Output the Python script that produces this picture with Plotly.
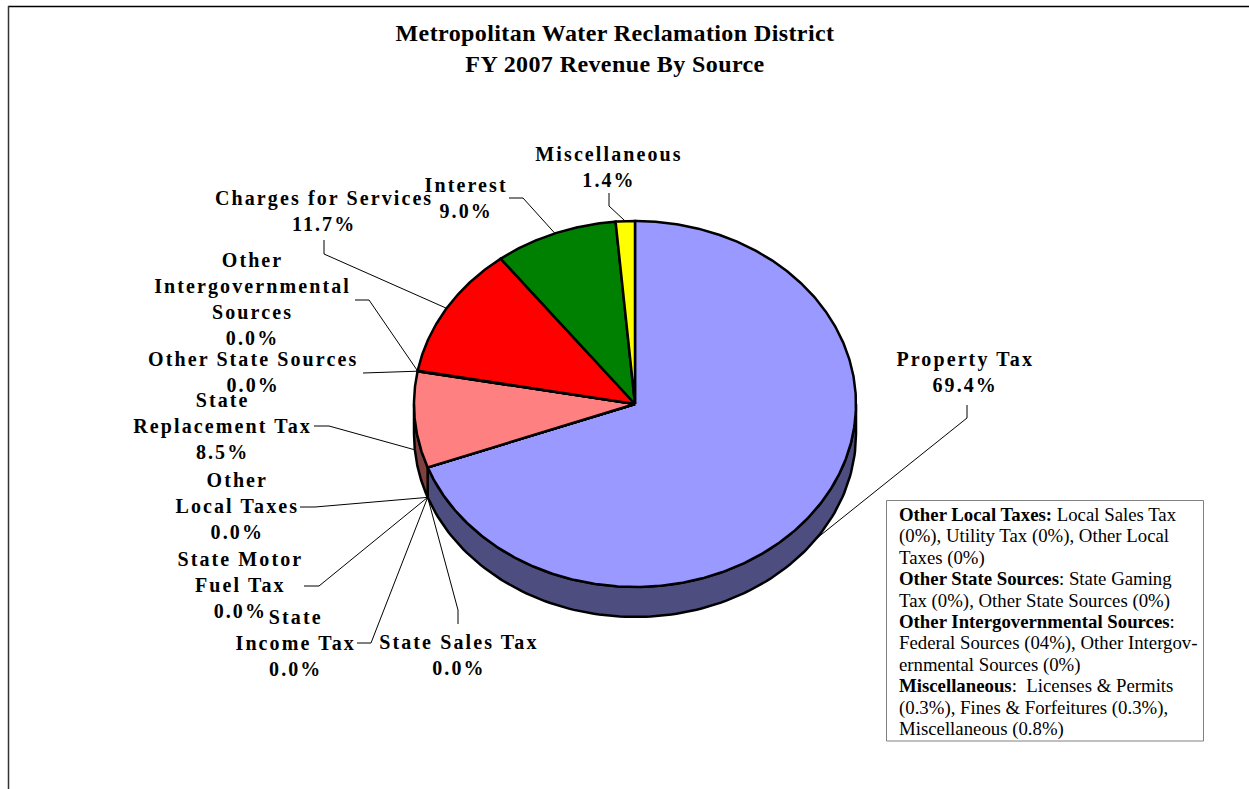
import numpy as np
import plotly.graph_objects as go

# ---- data -------------------------------------------------------------
categories = ["Property Tax", "Other Local Taxes", "State Motor Fuel Tax", "State Income Tax",
              "State Sales Tax", "State Replacement Tax", "Other State Sources",
              "Other Intergovernmental Sources", "Charges for Services", "Interest", "Miscellaneous"]
values = [69.4, 0.0, 0.0, 0.0, 0.0, 8.5, 0.0, 0.04, 11.7, 9.0, 1.4]
shown_pct = ["69.4%", "0.0%", "0.0%", "0.0%", "0.0%", "8.5%", "0.0%", "0.0%", "11.7%", "9.0%", "1.4%"]
label_lines = [["Property Tax"], ["Other", "Local Taxes"], ["State Motor", "Fuel Tax"],
               ["State", "Income Tax"], ["State Sales Tax"], ["State", "Replacement Tax"],
               ["Other State Sources"], ["Other", "Intergovernmental", "Sources"],
               ["Charges for Services"], ["Interest"], ["Miscellaneous"]]
title_lines = ["Metropolitan Water Reclamation District", "FY 2007 Revenue By Source"]
note_lines = ["<b>Other Local Taxes:</b> Local Sales Tax", "(0%), Utility Tax (0%), Other Local", "Taxes (0%)",
              "<b>Other State Sources</b>: State Gaming", "Tax (0%), Other State Sources (0%)",
              "<b>Other Intergovernmental Sources</b>:", "Federal Sources (04%), Other Intergov-",
              "ernmental Sources (0%)", "<b>Miscellaneous</b>:  Licenses &amp; Permits",
              "(0.3%), Fines &amp; Forfeitures (0.3%),", "Miscellaneous (0.8%)"]

# ---- styles and layout -------------------------------------------------
top_colors = ["#9999FF", "#333333", "#333333", "#333333", "#333333", "#FF8080",
              "#333333", "#333333", "#FF0000", "#008000", "#FFFF00"]
side_colors = ["#4D4D80", "#1A1A1A", "#1A1A1A", "#1A1A1A", "#1A1A1A", "#804040",
               "#1A1A1A", "#1A1A1A", "#800000", "#004000", "#808000"]
CX, CY, RX, RY, DEPTH = 635, 404, 221, 183, 30
label_pos = [(965, 371.5), (237, 505.5), (240, 585), (295, 642.5), (459, 655), (222, 426),
             (253, 371.5), (253, 299), (324, 210.5), (466, 197.5), (609, 166.5)]
# elbow points of the leader lines (label side first)
leader_elbow = [[(967, 405), (967, 418)], [(300, 507), (315, 507)], [(304, 586), (319, 586)],
                [(357, 643), (371, 643)], [(458, 624), (458, 610)], [(314, 426), (329, 426)],
                [(363, 373)], [(355, 300), (369, 300)], [(324, 240), (324, 254)],
                [(509, 198), (523, 198)], [(609, 193), (609, 206)]]
LABEL_FONT = dict(family="Liberation Serif", size=20, color="#000000", weight="bold")


def rim(deg):
    a = np.radians(deg)
    return CX + RX * np.sin(a), CY - RY * np.cos(a)


total = sum(values)
edges = np.concatenate([[0], np.cumsum(values)]) / total * 360
fig = go.Figure()
base = dict(mode="lines", hoverinfo="skip", showlegend=False)

# side wall (front half of the rim only)
for i, c in enumerate(categories):
    lo, hi = max(edges[i], 90), min(edges[i + 1], 270)
    if hi <= lo:
        continue
    t = np.linspace(lo, hi, 120)
    x, y = rim(t)
    fig.add_trace(go.Scatter(x=np.r_[x, x[::-1], x[0]], y=np.r_[y, y[::-1] + DEPTH, y[0]], fill="toself",
                             fillcolor=side_colors[i], line=dict(color="#000000", width=2.5), **base))

# top wedges
for i, c in enumerate(categories):
    t = np.linspace(edges[i], edges[i + 1], max(2, int(values[i] * 8)))
    x, y = rim(t)
    fig.add_trace(go.Scatter(x=np.r_[CX, x, CX], y=np.r_[CY, y, CY], fill="toself", name=c,
                             fillcolor=top_colors[i], line=dict(color="#000000", width=2.5), **base))

# leader lines ending on the slice's mid angle
for i, c in enumerate(categories):
    mid = (edges[i] + edges[i + 1]) / 2
    ex, ey = rim(mid)
    if 90 < mid < 270:
        ey += DEPTH
    pts = leader_elbow[i]
    fig.add_trace(go.Scatter(x=[p[0] for p in pts] + [float(ex)], y=[p[1] for p in pts] + [float(ey)],
                             line=dict(color="#000000", width=1), **base))

# data labels
for i, c in enumerate(categories):
    fig.add_annotation(x=label_pos[i][0], y=label_pos[i][1], xref="x", yref="y", showarrow=False,
                       text="<br>".join(label_lines[i] + [shown_pct[i]]), font=LABEL_FONT,
                       xanchor="center", yanchor="middle", align="center")

# note box text
fig.add_annotation(x=897, y=501.5, xref="x", yref="y", showarrow=False, xanchor="left", yanchor="top",
                   align="left", text="<br>".join(note_lines),
                   font=dict(family="Liberation Serif", size=18.8, color="#000000"))

fig.update_layout(
    width=1249, height=789, margin=dict(l=0, r=0, t=0, b=0), autosize=False,
    paper_bgcolor="#FFFFFF", plot_bgcolor="#FFFFFF", showlegend=False,
    title=dict(text="<b>" + "<br>".join(title_lines) + "</b>", x=615 / 1249, xanchor="center",
               y=1 - 40.5 / 789, yanchor="middle",
               font=dict(family="Liberation Serif", size=24, color="#000000")),
    xaxis=dict(range=[0, 1249], visible=False, fixedrange=True),
    yaxis=dict(range=[789, 0], visible=False, fixedrange=True),
    shapes=[
        dict(type="line", x0=8, x1=1249, y0=6.5, y1=6.5, xref="x", yref="y", line=dict(color="#000000", width=1.5)),
        dict(type="line", x0=8.5, x1=8.5, y0=6, y1=789, xref="x", yref="y", line=dict(color="#333333", width=1.5)),
        dict(type="rect", x0=886.5, x1=1203.5, y0=500.5, y1=741, xref="x", yref="y",
             line=dict(color="#808080", width=1)),
    ],
)

post = """
document.body.style.margin = '0';
document.body.style.overflow = 'hidden';
document.querySelectorAll('.annotation').forEach(function (a) {
  var idx = +a.getAttribute('data-index');
  if (idx < %d) {
    a.querySelectorAll('text').forEach(function (t) { t.style.letterSpacing = '2.1px'; });
  } else {
    a.querySelectorAll('tspan.line').forEach(function (t, i) { t.setAttribute('dy', (i * 1.138) + 'em'); });
  }
});
document.querySelectorAll('.gtitle').forEach(function (t) { t.style.letterSpacing = '0.4px'; });
""" % len(categories)
fig.write_html("out.html", post_script=post, config={"displayModeBar": False})
